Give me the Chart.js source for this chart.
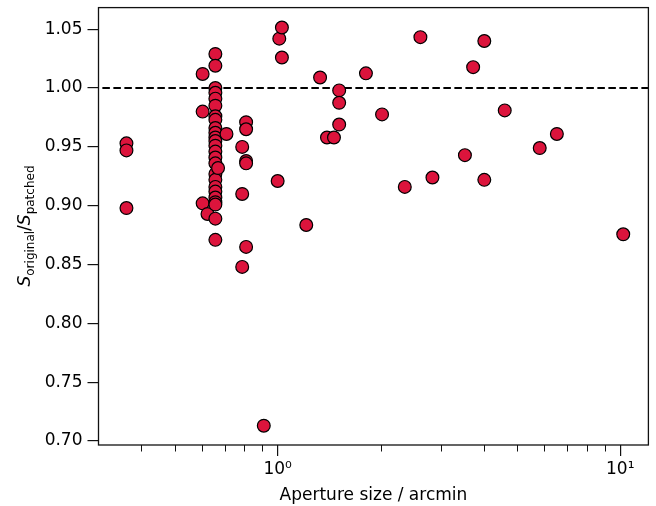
<!DOCTYPE html>
<html><head><meta charset="utf-8">
<script src="https://cdn.jsdelivr.net/npm/chart.js@4/dist/chart.umd.min.js"></script>
<style>html,body{margin:0;padding:0;background:#fff}canvas{display:block}</style>
</head><body>
<canvas id="c" width="656" height="506"></canvas>
<script>
// Aperture size (arcmin) and flux ratio S_original / S_patched
const apertureSize = [
  0.362, 0.362, 0.362,
  0.604, 0.604, 0.604, 0.624,
  0.658, 0.658, 0.658, 0.658, 0.658, 0.658, 0.658, 0.658, 0.658, 0.658,
  0.658, 0.658, 0.658, 0.658, 0.658, 0.658, 0.658, 0.658, 0.658, 0.658,
  0.658, 0.658, 0.658, 0.658, 0.658, 0.670,
  0.709, 0.788, 0.788, 0.788, 0.809, 0.809, 0.809, 0.809, 0.809,
  0.911, 1.000, 1.011, 1.029, 1.029, 1.212, 1.330, 1.393, 1.460,
  1.512, 1.512, 1.512, 1.810, 2.017, 2.350, 2.610, 2.830, 3.520,
  3.720, 4.010, 4.010, 4.600, 5.820, 6.530, 10.20
];
const fluxRatio = [
  0.953, 0.947, 0.898,
  1.012, 0.980, 0.902, 0.893,
  1.029, 1.019, 1.000, 0.996, 0.991, 0.985, 0.976, 0.973, 0.966, 0.962,
  0.958, 0.955, 0.951, 0.946, 0.941, 0.936, 0.927, 0.922, 0.916, 0.912,
  0.907, 0.903, 0.901, 0.889, 0.871, 0.932,
  0.961, 0.950, 0.910, 0.848, 0.971, 0.965, 0.938, 0.936, 0.865,
  0.713, 0.921, 1.042, 1.0515, 1.026, 0.8836, 1.009, 0.958, 0.958,
  0.998, 0.9875, 0.969, 1.0125, 0.9776, 0.916, 1.0433, 0.924, 0.943,
  1.0178, 1.040, 0.922, 0.981, 0.949, 0.961, 0.8757
];
const yTicks = [0.70, 0.75, 0.80, 0.85, 0.90, 0.95, 1.00, 1.05];
const xMajorTicks = [1, 10];
const xMinorTicks = [0.4, 0.5, 0.6, 0.7, 0.8, 0.9, 2, 3, 4, 5, 6, 7, 8, 9];
const referenceLevel = 1.0;
const xRange = [0.3079, 12.08];
const yRange = [0.6966, 1.0684];

const FONT = "'DejaVu Sans', sans-serif";
const SUP = {'0':'⁰','1':'¹','2':'²','3':'³','-':'⁻'};
const INK = '#111';

const decorations = {
  id: 'decorations',
  afterDatasetsDraw(chart) {
    const {ctx, chartArea: a, scales: {x}} = chart;
    ctx.save();
    // minor x ticks
    ctx.strokeStyle = INK; ctx.lineWidth = 1;
    xMinorTicks.forEach(v => {
      const px = Math.round(x.getPixelForValue(v)) + 0.5;
      ctx.beginPath(); ctx.moveTo(px, a.bottom); ctx.lineTo(px, a.bottom + 6.5); ctx.stroke();
    });
    // frame
    ctx.lineWidth = 1.3;
    ctx.strokeRect(a.left, a.top, a.right - a.left, a.bottom - a.top);
    ctx.restore();
  },
  afterDraw(chart) {
    const {ctx, chartArea: a} = chart;
    ctx.save();
    ctx.fillStyle = '#000';
    // y-axis title: S_original / S_patched
    const parts = [
      {t: 'S', f: 'italic 17px ' + FONT, dy: 0},
      {t: 'original', f: '12px ' + FONT, dy: 4},
      {t: '/', f: '17px ' + FONT, dy: 0},
      {t: 'S', f: 'italic 17px ' + FONT, dy: 0},
      {t: 'patched', f: '12px ' + FONT, dy: 4}
    ];
    let total = 0;
    parts.forEach(p => { ctx.font = p.f; p.w = ctx.measureText(p.t).width; total += p.w; });
    ctx.translate(30, 226);
    ctx.rotate(-Math.PI / 2);
    ctx.textBaseline = 'alphabetic';
    let cx = -total / 2;
    parts.forEach(p => { ctx.font = p.f; ctx.fillText(p.t, cx, p.dy); cx += p.w; });
    ctx.restore();
  }
};

new Chart(document.getElementById('c'), {
  type: 'scatter',
  data: {
    datasets: [
      {
        label: 'ratio',
        data: apertureSize.map((v, i) => ({x: v, y: fluxRatio[i]})),
        backgroundColor: '#DC143C',
        borderColor: '#000',
        borderWidth: 1.2,
        pointRadius: 6.4,
        pointHoverRadius: 6.4,
        order: 1
      },
      {
        type: 'line',
        label: 'unity',
        data: [{x: xRange[0], y: referenceLevel}, {x: xRange[1], y: referenceLevel}],
        borderColor: '#000',
        borderWidth: 2,
        borderDash: [7.5, 3.5],
        pointRadius: 0,
        fill: false,
        order: 2
      }
    ]
  },
  options: {
    responsive: false,
    animation: false,
    devicePixelRatio: 1,
    layout: {padding: {left: 0, top: 7.5, right: 4.5, bottom: 0}},
    plugins: {legend: {display: false}, tooltip: {enabled: false}},
    scales: {
      x: {
        type: 'logarithmic',
        min: xRange[0], max: xRange[1],
        afterBuildTicks: s => { s.ticks = xMajorTicks.map(v => ({value: v, major: true})); },
        afterFit: s => { s.height = 61; s.paddingLeft = 0; s.paddingRight = 0; },
        border: {display: false},
        grid: {drawOnChartArea: false, drawTicks: true, tickLength: 11, color: INK, lineWidth: 1.2},
        ticks: {
          color: '#000', padding: 3, maxRotation: 0, autoSkip: false,
          font: {family: FONT, size: 17},
          callback: v => '10' + String(Math.round(Math.log10(v))).split('').map(c => SUP[c]).join('')
        },
        title: {display: true, text: 'Aperture size / arcmin', color: '#000',
                font: {family: FONT, size: 17}, padding: {top: 4, bottom: 0}}
      },
      y: {
        type: 'linear',
        min: yRange[0], max: yRange[1],
        afterBuildTicks: s => { s.ticks = yTicks.map(v => ({value: v})); },
        afterFit: s => { s.width = 98.5; s.paddingTop = 0; s.paddingBottom = 0; },
        border: {display: false},
        grid: {drawOnChartArea: false, drawTicks: true, tickLength: 11, color: INK, lineWidth: 1.2},
        ticks: {
          color: '#000', padding: 5,
          font: {family: FONT, size: 17},
          callback: v => v.toFixed(2)
        }
      }
    }
  },
  plugins: [decorations]
});
</script>
</body></html>
